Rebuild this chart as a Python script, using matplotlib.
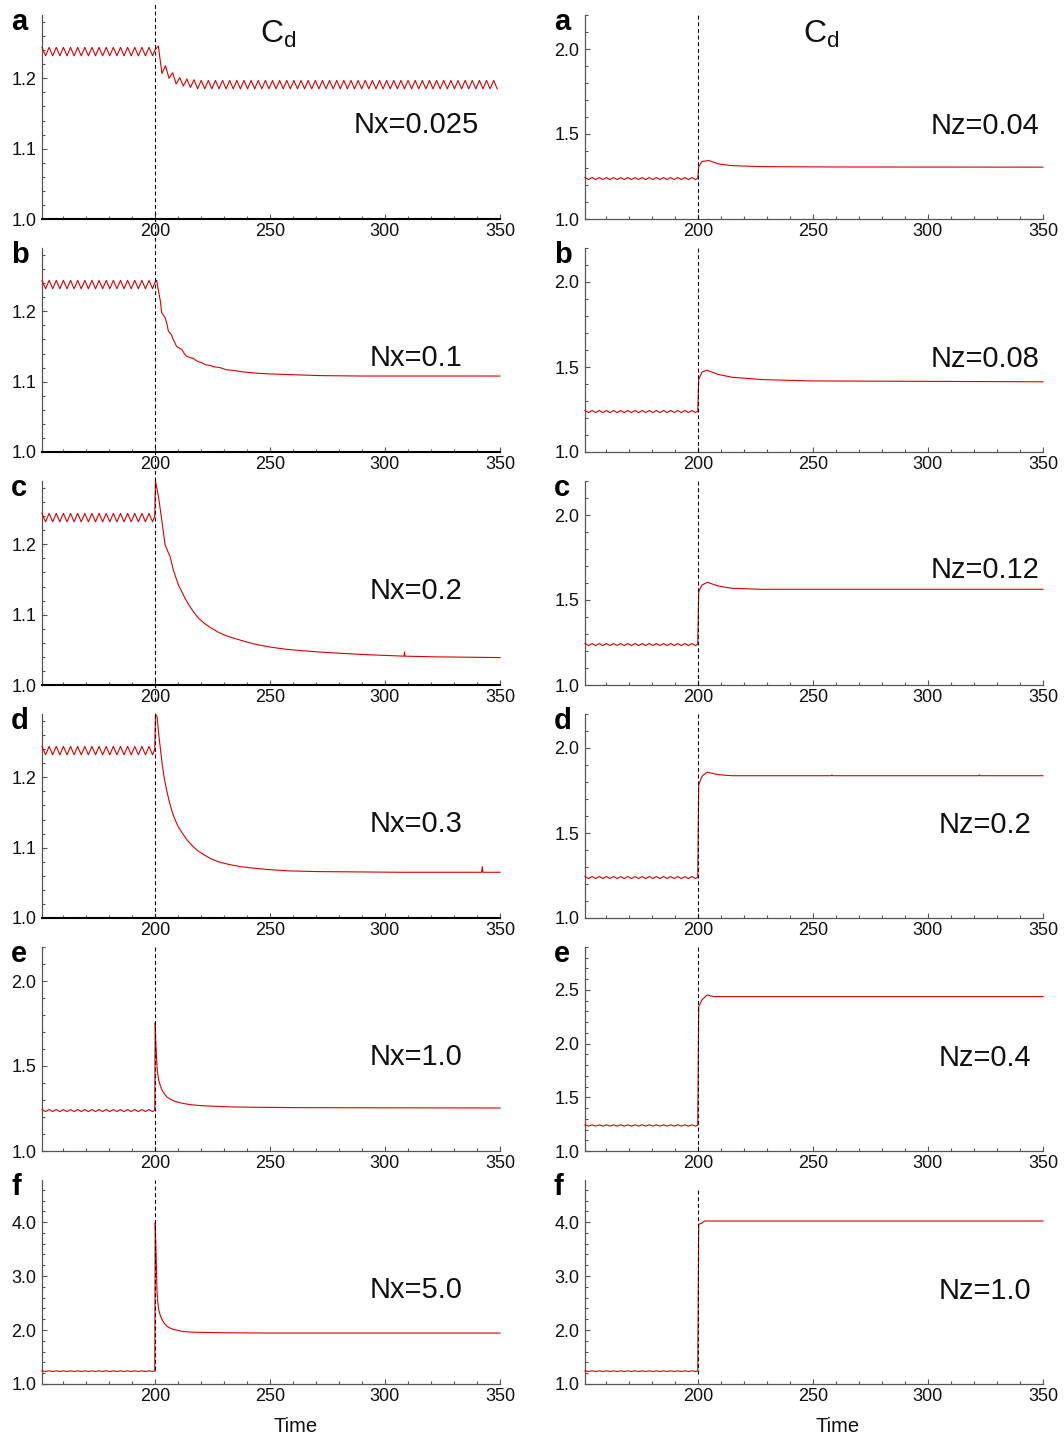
import numpy as np
import matplotlib
matplotlib.use("Agg")
import matplotlib.pyplot as plt
from matplotlib.ticker import FixedLocator, MultipleLocator, FormatStrFormatter

plt.rcParams['font.family'] = ['Liberation Sans', 'DejaVu Sans']
plt.rcParams['mathtext.fontset'] = 'custom'
plt.rcParams['mathtext.rm'] = 'Liberation Sans'
plt.rcParams['mathtext.it'] = 'Liberation Sans'

# ---------------------------------------------------------------------------
# Drag coefficient histories. Control is switched on at t = 200.
# ---------------------------------------------------------------------------
T_SWITCH = 200.0
HALF_PERIOD = 1.55          # half of the vortex-shedding period

# uncontrolled wake before the switch (shared by every case), crest/trough samples
T0_BASE = 151.0
CD_BASE = [1.244, 1.232, 1.244, 1.232, 1.244, 1.232, 1.244, 1.232,
           1.244, 1.232, 1.244, 1.232, 1.244, 1.232, 1.244, 1.232,
           1.244, 1.232, 1.244, 1.232, 1.244, 1.232, 1.244, 1.232,
           1.244, 1.232, 1.244, 1.232, 1.244, 1.232, 1.244, 1.232]

# Nx = 0.025: shedding survives, sampled every half period from t = 200
CD_NX0025 = [1.240, 1.246, 1.207, 1.218, 1.200, 1.208, 1.192, 1.201, 1.189, 1.199, 1.187, 1.198,
             1.185, 1.197, 1.185, 1.197, 1.185, 1.197, 1.185, 1.197, 1.185, 1.197,
             1.185, 1.197, 1.185, 1.197, 1.185, 1.197, 1.185, 1.197, 1.185, 1.197,
             1.185, 1.197, 1.185, 1.197, 1.185, 1.197, 1.185, 1.197, 1.185, 1.197,
             1.185, 1.197, 1.185, 1.197, 1.185, 1.197, 1.185, 1.197, 1.185, 1.197,
             1.185, 1.197, 1.185, 1.197, 1.185, 1.197, 1.185, 1.197, 1.185, 1.197,
             1.185, 1.197, 1.185, 1.197, 1.185, 1.197, 1.185, 1.197, 1.185, 1.197,
             1.185, 1.197, 1.185, 1.197, 1.185, 1.197, 1.185, 1.197, 1.185, 1.197,
             1.185, 1.197, 1.185, 1.197, 1.185, 1.197, 1.185, 1.197, 1.185, 1.197,
             1.185, 1.197, 1.185, 1.197, 1.185]

T_NX01 = [200.0, 200.8, 201.6, 202.4, 203.0, 204.5, 205.3, 205.9, 207.2, 208.0, 209.5,
          210.5, 211.7, 213.0, 213.9, 215.5, 216.8, 218.5, 220.4, 222.0, 224.0, 226.0,
          228.3, 231.0, 234.1, 238.0, 244.3, 250.0, 258.8, 271.8, 290.0, 320.0, 350.0]
CD_NX01 = [1.241, 1.244, 1.229, 1.215, 1.198, 1.191, 1.182, 1.172, 1.167, 1.160, 1.150,
           1.148, 1.146, 1.139, 1.136, 1.134, 1.133, 1.129, 1.127, 1.124, 1.123, 1.121,
           1.120, 1.117, 1.116, 1.114, 1.112, 1.111, 1.110, 1.1086, 1.108, 1.108, 1.108]

T_NX02 = [200.0, 200.3, 201.6, 203.0, 204.5, 206.7, 208.1, 210.3, 213.2, 215.0, 216.8,
          219.0, 221.8, 224.5, 227.6, 231.0, 234.9, 239.0, 243.6, 250.0, 256.6, 263.0,
          271.1, 281.0, 292.8, 308.3, 308.5, 308.7, 321.8, 350.0]
CD_NX02 = [1.240, 1.290, 1.268, 1.235, 1.199, 1.182, 1.163, 1.142, 1.123, 1.113, 1.104,
           1.095, 1.087, 1.081, 1.075, 1.070, 1.066, 1.062, 1.058, 1.054, 1.051, 1.049,
           1.047, 1.045, 1.043, 1.041, 1.047, 1.041, 1.040, 1.039]

T_NX03 = [200.0, 200.3, 201.0, 201.7, 202.5, 203.2, 204.0, 205.0, 206.1, 207.2, 208.3,
          210.0, 211.9, 214.0, 216.2, 218.5, 221.3, 224.5, 228.5, 232.5, 237.2, 242.5,
          248.8, 258.0, 270.6, 306.8, 342.0, 342.3, 342.6, 350.0]
CD_NX03 = [1.240, 1.290, 1.286, 1.262, 1.239, 1.219, 1.201, 1.184, 1.168, 1.155, 1.144,
           1.131, 1.121, 1.111, 1.103, 1.096, 1.090, 1.084, 1.079, 1.076, 1.073, 1.071,
           1.069, 1.067, 1.066, 1.065, 1.065, 1.073, 1.065, 1.065]

T_NX10 = [200.0, 200.2, 200.4, 200.6, 200.8, 201.0, 201.3, 201.7, 202.4, 203.2, 204.2,
          205.3, 206.7, 208.3, 210.3, 212.6, 216.0, 219.9, 226.0, 234.4, 245.0, 263.4,
          300.0, 350.0]
CD_NX10 = [1.240, 1.754, 1.650, 1.593, 1.540, 1.495, 1.455, 1.417, 1.385, 1.358, 1.336,
           1.318, 1.305, 1.295, 1.286, 1.279, 1.272, 1.267, 1.263, 1.259, 1.257, 1.255,
           1.254, 1.253]

T_NX50 = [200.0, 200.2, 200.4, 200.6, 200.8, 201.0, 201.3, 201.7, 202.4, 203.2, 204.2,
          205.3, 206.7, 208.3, 210.3, 212.6, 216.0, 219.9, 230.0, 248.8, 350.0]
CD_NX50 = [1.240, 3.990, 3.650, 3.370, 3.000, 2.690, 2.520, 2.380, 2.270, 2.190, 2.120,
           2.070, 2.035, 2.010, 1.990, 1.970, 1.962, 1.957, 1.950, 1.944, 1.944]

T_NZ004 = [200.0, 200.4, 201.8, 204.7, 209.0, 214.8, 227.8, 260.0, 350.0]
CD_NZ004 = [1.240, 1.308, 1.338, 1.344, 1.324, 1.314, 1.308, 1.306, 1.305]

T_NZ008 = [200.0, 200.4, 201.8, 204.0, 209.0, 214.8, 227.8, 249.5, 350.0]
CD_NZ008 = [1.240, 1.426, 1.470, 1.481, 1.456, 1.440, 1.426, 1.418, 1.413]

T_NZ012 = [200.0, 200.4, 201.8, 204.2, 209.0, 214.8, 227.8, 350.0]
CD_NZ012 = [1.240, 1.549, 1.588, 1.604, 1.582, 1.569, 1.563, 1.563]

T_NZ02 = [200.0, 200.4, 201.8, 204.0, 209.0, 214.8, 258.0, 258.3, 258.6, 322.0, 322.3, 322.6, 350.0]
CD_NZ02 = [1.240, 1.783, 1.833, 1.858, 1.843, 1.837, 1.837, 1.842, 1.837, 1.837, 1.842, 1.837, 1.837]

T_NZ04 = [200.0, 200.4, 201.8, 204.0, 207.0, 350.0]
CD_NZ04 = [1.240, 2.345, 2.407, 2.453, 2.438, 2.438]

T_NZ10 = [200.0, 200.4, 201.5, 203.0, 350.0]
CD_NZ10 = [1.240, 3.960, 3.975, 4.020, 4.020]

NX_LABELS = ["Nx=0.025", "Nx=0.1", "Nx=0.2", "Nx=0.3", "Nx=1.0", "Nx=5.0"]
NZ_LABELS = ["Nz=0.04", "Nz=0.08", "Nz=0.12", "Nz=0.2", "Nz=0.4", "Nz=1.0"]
PANEL_LETTERS = ["a", "b", "c", "d", "e", "f"]
X_TICKS = [200, 250, 300, 350]

t_nx0025 = T_SWITCH + HALF_PERIOD * np.arange(len(CD_NX0025))
t_base = T0_BASE + HALF_PERIOD * np.arange(len(CD_BASE))

NX_SERIES = [(t_nx0025, CD_NX0025), (T_NX01, CD_NX01), (T_NX02, CD_NX02),
             (T_NX03, CD_NX03), (T_NX10, CD_NX10), (T_NX50, CD_NX50)]
NZ_SERIES = [(T_NZ004, CD_NZ004), (T_NZ008, CD_NZ008), (T_NZ012, CD_NZ012),
             (T_NZ02, CD_NZ02), (T_NZ04, CD_NZ04), (T_NZ10, CD_NZ10)]

# ---------------------------------------------------------------------------
# Layout (pixels)
# ---------------------------------------------------------------------------
W, H = 1064, 1440
COL_X = [42, 585]
AX_W = 458
ROW_TOP0, ROW_STEP, AX_H = 15, 233, 204
RED = '#d90000'
AXIS_GREY = '#555555'

# y-axis settings: (ylim top, major step, minor step)
LEFT_Y = [(1.29, 0.1, 0.02)] * 4 + [(2.2, 0.5, 0.1), (4.78, 1.0, 0.2)]
RIGHT_Y = [(2.2, 0.5, 0.1)] * 4 + [(2.9, 0.5, 0.1), (4.78, 1.0, 0.2)]

# vertical extent of the dashed switch-on marker, in axes fraction
LEFT_DASH = [(-0.08, 1.06)] * 3 + [(0.0, 1.0), (0.0, 1.0), (0.07, 1.0)]
RIGHT_DASH = [(0.0, 1.0)] * 5 + [(0.05, 0.95)]

fig = plt.figure(figsize=(W / 100, H / 100), dpi=100)


def style_axes(ax, ytop, major, minor, thick_bottom):
    ax.set_xlim(151, 350)
    ax.set_ylim(1.0, ytop)
    ax.xaxis.set_major_locator(FixedLocator(X_TICKS))
    ax.xaxis.set_minor_locator(MultipleLocator(10))
    ax.yaxis.set_major_locator(MultipleLocator(major))
    ax.yaxis.set_minor_locator(MultipleLocator(minor))
    ax.yaxis.set_major_formatter(FormatStrFormatter('%.1f'))
    for s in ('top', 'right'):
        ax.spines[s].set_visible(False)
    ax.spines['left'].set_color(AXIS_GREY)
    ax.spines['left'].set_linewidth(0.9)
    if thick_bottom:
        ax.spines['bottom'].set_color('black')
        ax.spines['bottom'].set_linewidth(1.5)
    else:
        ax.spines['bottom'].set_color(AXIS_GREY)
        ax.spines['bottom'].set_linewidth(0.9)
    ax.tick_params(which='both', direction='in', color=AXIS_GREY, width=0.8,
                   labelsize=13, labelcolor='#111111')
    ax.tick_params(which='major', length=3.6, pad=3)
    ax.tick_params(which='minor', length=2.2)
    ax.tick_params(axis='y', which='major', pad=4)


for col in range(2):
    series = NX_SERIES if col == 0 else NZ_SERIES
    labels = NX_LABELS if col == 0 else NZ_LABELS
    yset = LEFT_Y if col == 0 else RIGHT_Y
    dash = LEFT_DASH if col == 0 else RIGHT_DASH
    x0 = COL_X[col]
    for row in range(6):
        top = ROW_TOP0 + ROW_STEP * row
        ax = fig.add_axes([x0 / W, 1 - (top + AX_H) / H, AX_W / W, AX_H / H])
        ytop, major, minor = yset[row]
        style_axes(ax, ytop, major, minor, thick_bottom=(col == 0 and row < 4))

        t_post, cd_post = series[row]
        t_all = np.concatenate([t_base, np.asarray(t_post, dtype=float)])
        cd_all = np.concatenate([np.asarray(CD_BASE), np.asarray(cd_post, dtype=float)])
        ax.plot(t_all, cd_all, color=RED, lw=0.8, zorder=3, clip_on=False,
                solid_joinstyle='round')

        y0, y1 = dash[row]
        ax.plot([T_SWITCH, T_SWITCH], [y0, y1], transform=ax.get_xaxis_transform(),
                color='black', lw=0.8, dashes=(3.5, 2.5), clip_on=False, zorder=5)

        if col == 1 and row == 2:
            ly = 0.523
        else:
            ly = 0.42 if col == 0 else 0.415
        lx = 0.817 if col == 0 else 0.873
        ax.text(lx, ly, labels[row], transform=ax.transAxes, ha='center',
                va='baseline', fontsize=21, color='#111111')

        fig.text((x0 - 31) / W, 1 - (top + 15) / H, PANEL_LETTERS[row],
                 fontsize=21, fontweight='bold', ha='left', va='baseline')

# titles and shared time labels
for cx in (278, 821):
    fig.text(cx / W, 1 - 43 / H, r'C$_{\mathrm{d}}$', fontsize=23,
             ha='center', va='baseline', color='#111111')
for cx in (296, 838):
    fig.text(cx / W, 1 - 1426 / H, 'Time', fontsize=14.5,
             ha='center', va='center', color='#111111')

fig.savefig('out.png', dpi=100)
